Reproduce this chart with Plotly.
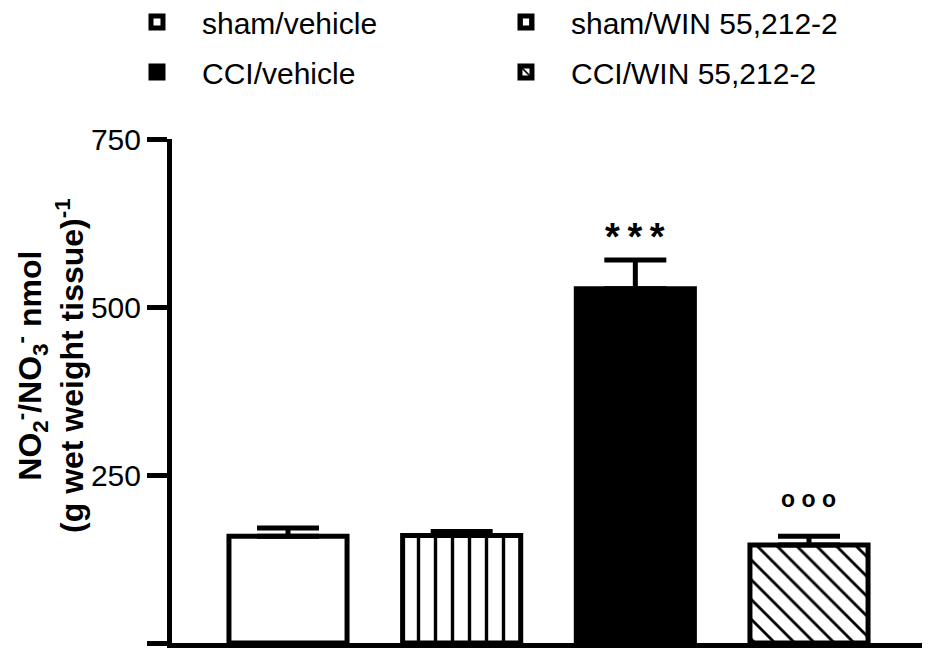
import plotly.graph_objects as go

# ---- data ----
groups = ["sham/vehicle", "sham/WIN 55,212-2", "CCI/vehicle", "CCI/WIN 55,212-2"]
means = [159, 160, 527, 146]
sem = [12, 6, 43, 13]
sig_labels = ["", "", "*&#8201;*&#8201;*", "o o o"]
y_ticks = [0, 250, 500, 750]
y_title = "NO<sub>2</sub><sup>-</sup>/NO<sub>3</sub><sup>-</sup> nmol<br>(g wet weight tissue)<sup>-1</sup>"

# ---- styles ----
fill_colors = ["white", "white", "black", "white"]
patterns = ["", "|", "", "\\"]
pattern_sizes = [17, 17, 17, 14]
legend_ids = ["legend", "legend", "legend2", "legend2"]
FONT = "Arial, 'Liberation Sans', Helvetica, sans-serif"

fig = go.Figure()
for i, g in enumerate(groups):
    fig.add_trace(go.Bar(
        x=[g], y=[means[i]], name=g, width=0.68,
        marker=dict(
            color=fill_colors[i],
            line=dict(color="black", width=5),
            pattern=dict(shape=patterns[i], fgcolor="black", bgcolor=fill_colors[i],
                         fgopacity=1, size=pattern_sizes[i], solidity=0.2),
        ),
        error_y=dict(type="data", symmetric=False, array=[sem[i]], arrayminus=[0],
                     color="black", thickness=5, width=31),
        legend=legend_ids[i],
    ))

for i, g in enumerate(groups):
    if sig_labels[i]:
        star = "*" in sig_labels[i]
        fig.add_annotation(
            x=g, y=means[i] + sem[i], text="<b>" + sig_labels[i] + "</b>",
            showarrow=False, yanchor="bottom", yshift=0 if star else 22,
            font=dict(family=FONT, size=38 if star else 23, color="black"),
        )

# y-axis title (two rotated lines)
fig.add_annotation(
    xref="paper", yref="paper", x=-0.2205, y=0.5516,
    xanchor="left", yanchor="middle", textangle=-90, showarrow=False,
    text="<b>" + y_title + "</b>",
    font=dict(family=FONT, size=32, color="black"),
)

legend_common = dict(
    x=-0.0797, xanchor="left", yanchor="middle", orientation="h",
    entrywidth=274, entrywidthmode="pixels", itemwidth=80,
    font=dict(family=FONT, size=30, color="black"),
    bgcolor="rgba(0,0,0,0)", traceorder="normal",
)

fig.update_layout(
    width=922, height=648,
    margin=dict(l=164, r=5, t=131, b=13, autoexpand=False),
    paper_bgcolor="white", plot_bgcolor="white",
    barmode="overlay", showlegend=True,
    font=dict(family=FONT, color="black"),
    legend=dict(y=1.232, **legend_common),
    legend2=dict(y=1.133, **legend_common),
    xaxis=dict(
        type="category", categoryorder="array", categoryarray=groups,
        range=[-0.668, 3.668], showticklabels=False, ticks="",
        showline=True, linewidth=5, linecolor="black",
        showgrid=False, zeroline=False, fixedrange=True,
    ),
    yaxis=dict(
        range=[0, 750], tickmode="array", tickvals=y_ticks,
        ticktext=[str(v) for v in y_ticks],
        ticks="outside", ticklen=20, tickwidth=5, tickcolor="black",
        tickfont=dict(family=FONT, size=30, color="black"),
        showline=True, linewidth=5, linecolor="black",
        showgrid=False, zeroline=False, fixedrange=True,
    ),
)

fig.write_html("out.html")
